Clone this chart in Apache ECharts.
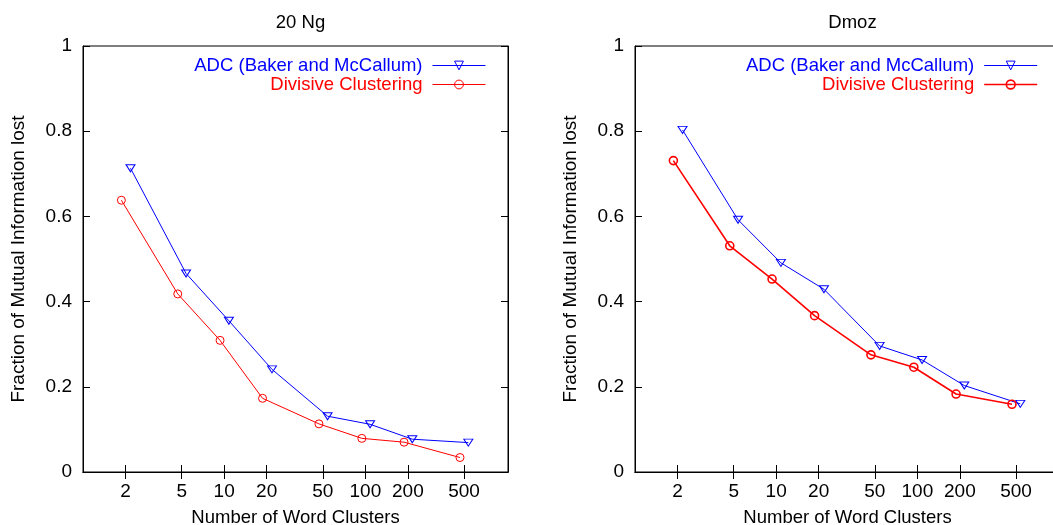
<!DOCTYPE html>
<html>
<head>
<meta charset="utf-8">
<script src="https://cdn.jsdelivr.net/npm/echarts@6/dist/echarts.min.js"></script>
<style>html,body{margin:0;padding:0;background:#fff}#c{width:1053px;height:525px}</style>
</head>
<body>
<div id="c"></div>
<script>
// tick labels on the (log) x axis
const xTicks = [2, 5, 10, 20, 50, 100, 200, 500];
// x positions as plotted (points are drawn slightly offset around each cluster count)
const adcX = [2.17, 5.37, 10.8, 21.8, 54, 108, 215, 536];
const divX = [1.87, 4.69, 9.35, 18.7, 46.9, 94.4, 188, 468];
// 20 Ng panel
const ngAdc = [0.713, 0.466, 0.355, 0.241, 0.131, 0.112, 0.077, 0.069];
const ngDiv = [0.638, 0.418, 0.309, 0.173, 0.113, 0.079, 0.070, 0.034];
// Dmoz panel
const dmAdc = [0.803, 0.592, 0.491, 0.429, 0.296, 0.263, 0.203, 0.160];
const dmDiv = [0.731, 0.531, 0.453, 0.367, 0.275, 0.246, 0.183, 0.159];
const titles = ['20 Ng', 'Dmoz'];
const seriesNames = ['ADC (Baker and McCallum)', 'Divisive Clustering'];
const xName = 'Number of Word Clusters';
const yName = 'Fraction of Mutual Information lost';

const FONT = '"Liberation Sans", Arial, Helvetica, sans-serif';
const BLUE = '#0000ff', RED = '#ff0000';
const grids = [
  {left: 83, top: 46, width: 425, height: 426},
  {left: 635, top: 46, width: 425, height: 426}
];
const txt = {fontFamily: FONT, fontSize: 18.5, color: '#000'};
const txtL = {fontFamily: FONT, fontSize: 19, color: '#000'};
const tickStyle = {show: true, inside: true, length: 7, lineStyle: {color: '#000', width: 1}};

const xAxis = [], yAxis = [];
grids.forEach((g, i) => {
  xAxis.push({
    type: 'log', logBase: 10, min: 1, max: 1024, gridIndex: i, position: 'bottom',
    name: xName, nameLocation: 'middle', nameGap: 36, nameTextStyle: txt,
    axisLine: {show: true, lineStyle: {color: '#000', width: 1}},
    axisTick: Object.assign({customValues: xTicks}, tickStyle),
    minorTick: {show: false},
    axisLabel: {customValues: xTicks, margin: 10, ...txtL, formatter: v => String(Math.round(v))},
    splitLine: {show: false}
  });
  xAxis.push({
    type: 'log', logBase: 10, min: 1, max: 1024, gridIndex: i, position: 'top',
    axisLine: {show: true, lineStyle: {color: '#000', width: 1}},
    axisTick: Object.assign({customValues: xTicks}, tickStyle),
    axisLabel: {show: false}, splitLine: {show: false}
  });
  yAxis.push({
    type: 'value', min: 0, max: 1, interval: 0.2, gridIndex: i, position: 'left',
    name: yName, nameLocation: 'middle', nameGap: 55, nameTextStyle: txtL,
    axisLine: {show: true, lineStyle: {color: '#000', width: 1}},
    axisTick: tickStyle,
    axisLabel: {margin: 11, ...txtL},
    splitLine: {show: false}
  });
  yAxis.push({
    type: 'value', min: 0, max: 1, interval: 0.2, gridIndex: i, position: 'right',
    axisLine: {show: true, lineStyle: {color: '#000', width: 1}},
    axisTick: tickStyle, axisLabel: {show: false}, splitLine: {show: false}
  });
});

function zip(xs, ys) { return xs.map((x, k) => [x, ys[k]]); }
function adcSeries(gi, ys) {
  return {
    type: 'line', name: seriesNames[0], xAxisIndex: gi * 2, yAxisIndex: gi * 2,
    data: zip(adcX, ys), symbol: 'triangle', symbolRotate: 180, symbolSize: [9, 7],
    itemStyle: {color: 'rgba(0,0,255,0)', borderColor: BLUE, borderWidth: 1},
    lineStyle: {color: BLUE, width: 1}, emphasis: {disabled: true}
  };
}
function divSeries(gi, ys, w) {
  return {
    type: 'line', name: seriesNames[1], xAxisIndex: gi * 2, yAxisIndex: gi * 2,
    data: zip(divX, ys), symbol: 'circle', symbolSize: 8,
    itemStyle: {color: 'rgba(255,0,0,0)', borderColor: RED, borderWidth: w},
    lineStyle: {color: RED, width: w}, emphasis: {disabled: true}
  };
}

function legendFor(rightPx, redW) {
  return {
    orient: 'vertical', align: 'right', right: rightPx, top: 56, padding: 0,
    itemWidth: 53, itemHeight: 11, itemGap: 0, selectedMode: false,
    textStyle: {fontFamily: FONT, fontSize: 18.5, lineHeight: 18, padding: [0, 5, 0, 0]},
    data: [
      {name: seriesNames[0], textStyle: {color: BLUE},
       lineStyle: {color: BLUE, width: 1},
       itemStyle: {color: 'rgba(0,0,0,0)', borderColor: BLUE, borderWidth: 1}},
      {name: seriesNames[1], textStyle: {color: RED},
       lineStyle: {color: RED, width: redW},
       itemStyle: {color: 'rgba(0,0,0,0)', borderColor: RED, borderWidth: redW}}
    ]
  };
}

const option = {
  animation: false,
  backgroundColor: '#fff',
  title: [
    {text: titles[0], left: 295.5, top: 8, textAlign: 'center', textStyle: {...txt, fontWeight: 'normal'}},
    {text: titles[1], left: 847.5, top: 8, textAlign: 'center', textStyle: {...txt, fontWeight: 'normal'}}
  ],
  grid: grids.map(g => Object.assign({show: true, borderColor: '#000', borderWidth: 1,
    backgroundColor: 'transparent', containLabel: false, outerBoundsMode: 'none'}, g)),
  xAxis, yAxis,
  legend: [legendFor(567, 1), legendFor(15, 1.6)],
  series: [
    adcSeries(0, ngAdc), divSeries(0, ngDiv, 1),
    adcSeries(1, dmAdc), divSeries(1, dmDiv, 1.6)
  ]
};
const chart = echarts.init(document.getElementById('c'), null, {renderer: 'canvas'});
chart.setOption(option);
</script>
</body>
</html>
